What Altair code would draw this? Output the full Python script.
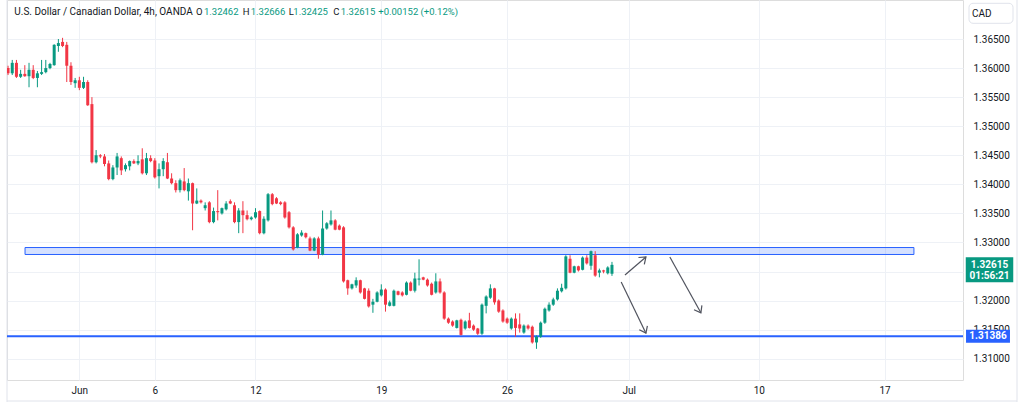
import math
import altair as alt
import pandas as pd

FONT = "Roboto"
W, H = 956, 380
PAD = {"left": 7, "right": 61, "top": 0, "bottom": 22}
X_DOMAIN = [-0.25, 227.7]
Y_DOMAIN = [1.30634, 1.37171]

GREEN = "#089981"
RED = "#f23645"
BLUE = "#2962ff"
TEXT = "#131722"
GRID = "#eef1f6"
FRAME = "#e0e3eb"

# ---- USD/CAD 4h candles ----
opens = [1.3600, 1.3591, 1.3609, 1.3585, 1.3590, 1.3586, 1.3597, 1.3583, 1.3590, 1.3593,
         1.3600, 1.3605, 1.3638, 1.3645, 1.3640, 1.3604, 1.3574, 1.3579, 1.3566, 1.3576,
         1.3538, 1.3438, 1.3450, 1.3448, 1.3436, 1.3409, 1.3429, 1.3445, 1.3426, 1.3431,
         1.3440, 1.3436, 1.3443, 1.3419, 1.3445, 1.3441, 1.3414, 1.3426, 1.3438, 1.3410,
         1.3402, 1.3390, 1.3405, 1.3388, 1.3402, 1.3367, 1.3372, 1.3359, 1.3369, 1.3335,
         1.3354, 1.3350, 1.3357, 1.3371, 1.3364, 1.3335, 1.3355, 1.3347, 1.3340, 1.3343,
         1.3354, 1.3316, 1.3338, 1.3383, 1.3376, 1.3369, 1.3369, 1.3352, 1.3326, 1.3291,
         1.3312, 1.3316, 1.3307, 1.3286, 1.3307, 1.3279, 1.3324, 1.3331, 1.3338, 1.3329,
         1.3326, 1.3235, 1.3221, 1.3226, 1.3235, 1.3221, 1.3217, 1.3193, 1.3198, 1.3209,
         1.3219, 1.3191, 1.3191, 1.3216, 1.3214, 1.3210, 1.3231, 1.3217, 1.3236, 1.3240,
         1.3236, 1.3229, 1.3214, 1.3233, 1.3214, 1.3169, 1.3164, 1.3153, 1.3167, 1.3152,
         1.3166, 1.3157, 1.3152, 1.3143, 1.3191, 1.3205, 1.3221, 1.3200, 1.3183, 1.3169,
         1.3152, 1.3169, 1.3159, 1.3145, 1.3157, 1.3155, 1.3128, 1.3138, 1.3162, 1.3183,
         1.3193, 1.3202, 1.3216, 1.3221, 1.3272, 1.3248, 1.3259, 1.3253, 1.3274, 1.3260,
         1.3278, 1.3248, 1.3252, 1.3247, 1.32462]
highs = [1.3604, 1.3614, 1.3614, 1.3597, 1.3605, 1.3609, 1.3605, 1.3595, 1.3614, 1.3614,
         1.3609, 1.3641, 1.3650, 1.3652, 1.3645, 1.3610, 1.3583, 1.3585, 1.3585, 1.3579,
         1.3550, 1.3459, 1.3452, 1.3452, 1.3441, 1.3433, 1.3454, 1.3448, 1.3436, 1.3441,
         1.3443, 1.3450, 1.3462, 1.3454, 1.3450, 1.3445, 1.3436, 1.3445, 1.3454, 1.3419,
         1.3407, 1.3410, 1.3428, 1.3410, 1.3403, 1.3393, 1.3374, 1.3369, 1.3371, 1.3360,
         1.3390, 1.3360, 1.3371, 1.3374, 1.3369, 1.3359, 1.3371, 1.3355, 1.3345, 1.3359,
         1.3355, 1.3345, 1.3385, 1.3385, 1.3378, 1.3371, 1.3371, 1.3354, 1.3328, 1.3316,
         1.3321, 1.3317, 1.3310, 1.3309, 1.3310, 1.3355, 1.3335, 1.3355, 1.3340, 1.3331,
         1.3328, 1.3236, 1.3229, 1.3240, 1.3236, 1.3222, 1.3221, 1.3203, 1.3216, 1.3228,
         1.3221, 1.3200, 1.3219, 1.3217, 1.3216, 1.3233, 1.3233, 1.3248, 1.3271, 1.3241,
         1.3238, 1.3231, 1.3247, 1.3238, 1.3216, 1.3171, 1.3166, 1.3167, 1.3169, 1.3166,
         1.3179, 1.3159, 1.3153, 1.3195, 1.3209, 1.3228, 1.3222, 1.3202, 1.3185, 1.3171,
         1.3171, 1.3178, 1.3178, 1.3159, 1.3159, 1.3157, 1.3140, 1.3164, 1.3188, 1.3197,
         1.3205, 1.3221, 1.3229, 1.3278, 1.3278, 1.3260, 1.3260, 1.3276, 1.3278, 1.3286,
         1.3285, 1.3255, 1.3253, 1.3259, 1.32666]
lows = [1.3588, 1.3588, 1.3583, 1.3583, 1.3585, 1.3567, 1.3581, 1.3567, 1.3588, 1.3591,
        1.3598, 1.3604, 1.3628, 1.3636, 1.3576, 1.3571, 1.3566, 1.3562, 1.3564, 1.3535,
        1.3436, 1.3436, 1.3445, 1.3431, 1.3407, 1.3407, 1.3416, 1.3416, 1.3422, 1.3424,
        1.3435, 1.3433, 1.3417, 1.3416, 1.3438, 1.3410, 1.3393, 1.3414, 1.3409, 1.3400,
        1.3386, 1.3386, 1.3388, 1.3372, 1.3321, 1.3366, 1.3367, 1.3355, 1.3333, 1.3333,
        1.3338, 1.3348, 1.3355, 1.3366, 1.3333, 1.3316, 1.3316, 1.3338, 1.3338, 1.3341,
        1.3314, 1.3314, 1.3336, 1.3364, 1.3366, 1.3364, 1.3341, 1.3324, 1.3286, 1.3290,
        1.3310, 1.3307, 1.3285, 1.3285, 1.3272, 1.3278, 1.3322, 1.3329, 1.3321, 1.3321,
        1.3231, 1.3210, 1.3219, 1.3222, 1.3212, 1.3202, 1.3188, 1.3179, 1.3197, 1.3207,
        1.3181, 1.3190, 1.3190, 1.3209, 1.3207, 1.3209, 1.3216, 1.3214, 1.3226, 1.3235,
        1.3224, 1.3209, 1.3212, 1.3212, 1.3167, 1.3160, 1.3155, 1.3152, 1.3140, 1.3150,
        1.3152, 1.3148, 1.3141, 1.3141, 1.3178, 1.3203, 1.3193, 1.3179, 1.3162, 1.3160,
        1.3150, 1.3138, 1.3145, 1.3143, 1.3150, 1.3126, 1.3117, 1.3136, 1.3160, 1.3181,
        1.3191, 1.3200, 1.3214, 1.3219, 1.3247, 1.3247, 1.3250, 1.3252, 1.3262, 1.3253,
        1.3241, 1.3240, 1.3247, 1.3245, 1.32425]
closes = [1.3591, 1.3609, 1.3585, 1.3590, 1.3586, 1.3597, 1.3583, 1.3591, 1.3593, 1.3600,
          1.3607, 1.3640, 1.3643, 1.3638, 1.3604, 1.3576, 1.3579, 1.3566, 1.3576, 1.3536,
          1.3438, 1.3450, 1.3448, 1.3435, 1.3409, 1.3429, 1.3448, 1.3424, 1.3433, 1.3440,
          1.3436, 1.3440, 1.3419, 1.3445, 1.3440, 1.3412, 1.3426, 1.3440, 1.3410, 1.3402,
          1.3390, 1.3407, 1.3390, 1.3402, 1.3367, 1.3372, 1.3369, 1.3364, 1.3335, 1.3354,
          1.3352, 1.3359, 1.3367, 1.3367, 1.3335, 1.3355, 1.3347, 1.3340, 1.3343, 1.3352,
          1.3316, 1.3341, 1.3383, 1.3366, 1.3367, 1.3366, 1.3343, 1.3326, 1.3288, 1.3314,
          1.3317, 1.3309, 1.3286, 1.3307, 1.3279, 1.3324, 1.3333, 1.3338, 1.3322, 1.3322,
          1.3233, 1.3221, 1.3228, 1.3235, 1.3214, 1.3203, 1.3190, 1.3198, 1.3214, 1.3219,
          1.3193, 1.3197, 1.3217, 1.3210, 1.3209, 1.3231, 1.3217, 1.3238, 1.3238, 1.3236,
          1.3226, 1.3210, 1.3233, 1.3214, 1.3169, 1.3162, 1.3157, 1.3166, 1.3141, 1.3164,
          1.3153, 1.3150, 1.3143, 1.3193, 1.3207, 1.3221, 1.3197, 1.3181, 1.3164, 1.3162,
          1.3169, 1.3153, 1.3152, 1.3157, 1.3152, 1.3128, 1.3138, 1.3162, 1.3186, 1.3193,
          1.3202, 1.3217, 1.3222, 1.3276, 1.3248, 1.3259, 1.3252, 1.3274, 1.3264, 1.3285,
          1.3243, 1.3252, 1.3250, 1.3257, 1.32615]

# ---- axes ----
date_ticks = [17, 35, 59, 89, 119, 148, 179, 209]
date_labels = ["Jun", "6", "12", "19", "26", "Jul", "10", "17"]
price_ticks = [1.310, 1.315, 1.320, 1.325, 1.330, 1.335, 1.340, 1.345, 1.350, 1.355, 1.360, 1.365]

# ---- drawings ----
zone_x = [4.05, 216.0]
zone_price = [1.32913, 1.32793]
support_price = [1.31386]
arrow_x1 = [147.1, 146.2, 157.8]
arrow_p1 = [1.3244, 1.3232, 1.3275]
arrow_x2 = [152.1, 152.1, 165.2]
arrow_p2 = [1.3275, 1.3144, 1.3179]

header_name = "U.S. Dollar / Canadian Dollar, 4h, OANDA"
header_change = "+0.00152 (+0.12%)"
countdown = "01:56:21"
currency = "CAD"

# ---- data frames ----
n = len(closes)
candles = pd.DataFrame({
    "i": list(range(n)), "open": opens, "high": highs, "low": lows, "close": closes,
    "dir": ["up" if c >= o else "down" for o, c in zip(opens, closes)],
})

px_i = W / (X_DOMAIN[1] - X_DOMAIN[0])
px_p = H / (Y_DOMAIN[1] - Y_DOMAIN[0])
arrows = pd.DataFrame({"x1": arrow_x1, "p1": arrow_p1, "x2": arrow_x2, "p2": arrow_p2})
arrows["ang"] = [
    math.degrees(math.atan2(-(b - a) * px_p, (d - c) * px_i)) % 360
    for a, b, c, d in zip(arrow_p1, arrow_p2, arrow_x1, arrow_x2)
]
zone = pd.DataFrame({"xa": [zone_x[0]], "xb": [zone_x[1]], "pa": [zone_price[0]], "pb": [zone_price[1]]})
support = pd.DataFrame({"p": support_price, "t": [f"{v:.5f}" for v in support_price]})
last = pd.DataFrame({"p": [closes[-1]], "t": [f"{closes[-1]:.5f}"], "cd": [countdown]})
one = pd.DataFrame({"a": [0]})

xs = alt.Scale(domain=X_DOMAIN, nice=False, zero=False, padding=0)
ys = alt.Scale(domain=Y_DOMAIN, nice=False, zero=False, padding=0)

# the price label that sits under the last-price tag is hidden, as on the scale
hidden = [t for t in price_ticks if abs(t - closes[-1]) < 0.002]
yexpr = "".join(f"abs(datum.value - {t}) < 1e-7 ? '' : " for t in hidden) + "format(datum.value, '.5f')"

expr = " : ".join(f"datum.value == {t} ? '{l}'" for t, l in zip(date_ticks, date_labels)) + " : ''"
xaxis = alt.Axis(orient="bottom", values=date_ticks, labelExpr=expr, title=None, grid=True,
                 gridColor=GRID, domain=False, ticks=False, tickSize=0, labelPadding=5,
                 labelFontSize=10, labelColor=TEXT, labelFont=FONT, labelFlush=False)
yaxis = alt.Axis(orient="right", values=price_ticks, labelExpr=yexpr, title=None, grid=True,
                 gridColor=GRID, domain=False, ticks=False, tickSize=0, labelPadding=10,
                 labelFontSize=10, labelColor=TEXT, labelFont=FONT)


def X(f):
    return alt.X(f, type="quantitative", scale=xs, axis=xaxis)


def Y(f):
    return alt.Y(f, type="quantitative", scale=ys, axis=yaxis)


color = alt.Color("dir:N", scale=alt.Scale(domain=["up", "down"], range=[GREEN, RED]), legend=None)

wicks = alt.Chart(candles).mark_rule(strokeWidth=1, clip=True).encode(
    x=X("i"), y=Y("low"), y2="high", color=color)
bodies = alt.Chart(candles).mark_bar(size=3, clip=True).encode(
    x=X("i"), y=Y("open"), y2="close", color=color)

zone_rect = alt.Chart(zone).mark_rect(fill=BLUE, fillOpacity=0.2, stroke=BLUE, strokeWidth=1).encode(
    x=X("xa"), x2="xb", y=Y("pa"), y2="pb")
support_line = alt.Chart(support).mark_rule(color=BLUE, strokeWidth=2).encode(y=Y("p"))

arrow_lines = alt.Chart(arrows).mark_rule(color="#50535e", strokeWidth=1.2).encode(
    x=X("x1"), x2="x2", y=Y("p1"), y2="p2")
arrow_heads = alt.Chart(arrows).mark_point(
    shape="M-1,-0.75L0,0L-1,0.75", filled=False, size=144, strokeWidth=1.2,
    color="#50535e", opacity=1).encode(
    x=X("x2"), y=Y("p2"), angle=alt.Angle("ang:Q", scale=None))

# price tags on the scale
tag_cx = 989.5 - PAD["left"]
green_box = alt.Chart(last).mark_point(
    shape="M-1.9,-1H1.9V1H-1.9Z", size=625, filled=True, fill=GREEN, stroke=None,
    opacity=1, yOffset=5).encode(x=alt.value(tag_cx), y=Y("p"))
green_t1 = alt.Chart(last).mark_text(color="white", fontSize=10, fontWeight="bold", font=FONT,
                                     align="center", baseline="middle").encode(
    x=alt.value(tag_cx), y=Y("p"), text="t:N")
green_t2 = alt.Chart(last).mark_text(color="white", fontSize=10, fontWeight="bold", font=FONT,
                                     align="center", baseline="middle", yOffset=11.5).encode(
    x=alt.value(tag_cx), y=Y("p"), text="cd:N")
blue_box = alt.Chart(support).mark_point(
    shape="M-3.38,-1H3.38V1H-3.38Z", size=169, filled=True, fill=BLUE, stroke=None,
    opacity=1).encode(x=alt.value(988 - PAD["left"]), y=Y("p"))
blue_t = alt.Chart(support).mark_text(color="white", fontSize=10, fontWeight="bold", font=FONT,
                                      align="center", baseline="middle").encode(
    x=alt.value(988 - PAD["left"]), y=Y("p"), text="t:N")


def label(text, px, py, col, size=9.5, weight="normal", align="left"):
    return alt.Chart(one).mark_text(text=text, align=align, baseline="middle", fontSize=size,
                                    fontWeight=weight, color=col, font=FONT).encode(
        x=alt.value(px - PAD["left"]), y=alt.value(py))


hy = 12
header = [
    label(header_name, 14.3, hy, TEXT, size=10),
    label("O", 196, hy, TEXT), label(f"{opens[-1]:.5f}", 204, hy, GREEN),
    label("H", 242.7, hy, TEXT), label(f"{highs[-1]:.5f}", 250.7, hy, GREEN),
    label("L", 288.7, hy, TEXT), label(f"{lows[-1]:.5f}", 293.3, hy, GREEN),
    label("C", 333.3, hy, TEXT), label(f"{closes[-1]:.5f}", 340.7, hy, GREEN),
    label(header_change, 378.3, hy, GREEN),
]

cad_box = alt.Chart(one).mark_rect(fill="white", stroke=FRAME, strokeWidth=1, cornerRadius=4).encode(
    x=alt.value(969 - PAD["left"]), x2=alt.value(1013 - PAD["left"]),
    y=alt.value(3.3), y2=alt.value(23.3))
cad_text = label(currency, 972, 13.5, TEXT, size=10)

frame_left = alt.Chart(one).mark_rule(color=FRAME, strokeWidth=1).encode(
    x=alt.value(0), y=alt.value(0), y2=alt.value(402))
frame_right = alt.Chart(one).mark_rule(color=FRAME, strokeWidth=1).encode(
    x=alt.value(1017 - PAD["left"]), y=alt.value(0), y2=alt.value(402))
frame_bottom = alt.Chart(one).mark_rule(color=FRAME, strokeWidth=1).encode(
    x=alt.value(0), x2=alt.value(1017 - PAD["left"]), y=alt.value(401))

chart = alt.layer(
    frame_left, frame_right, frame_bottom,
    zone_rect, support_line, wicks, bodies, arrow_lines, arrow_heads,
    green_box, green_t1, green_t2, blue_box, blue_t,
    *header, cad_box, cad_text,
).properties(
    width=W, height=H, padding=PAD, autosize=alt.AutoSizeParams(type="none"),
    background="white",
).configure_view(stroke=None).configure(font=FONT)

chart.save("out.html", embed_options={"renderer": "svg", "actions": False})
